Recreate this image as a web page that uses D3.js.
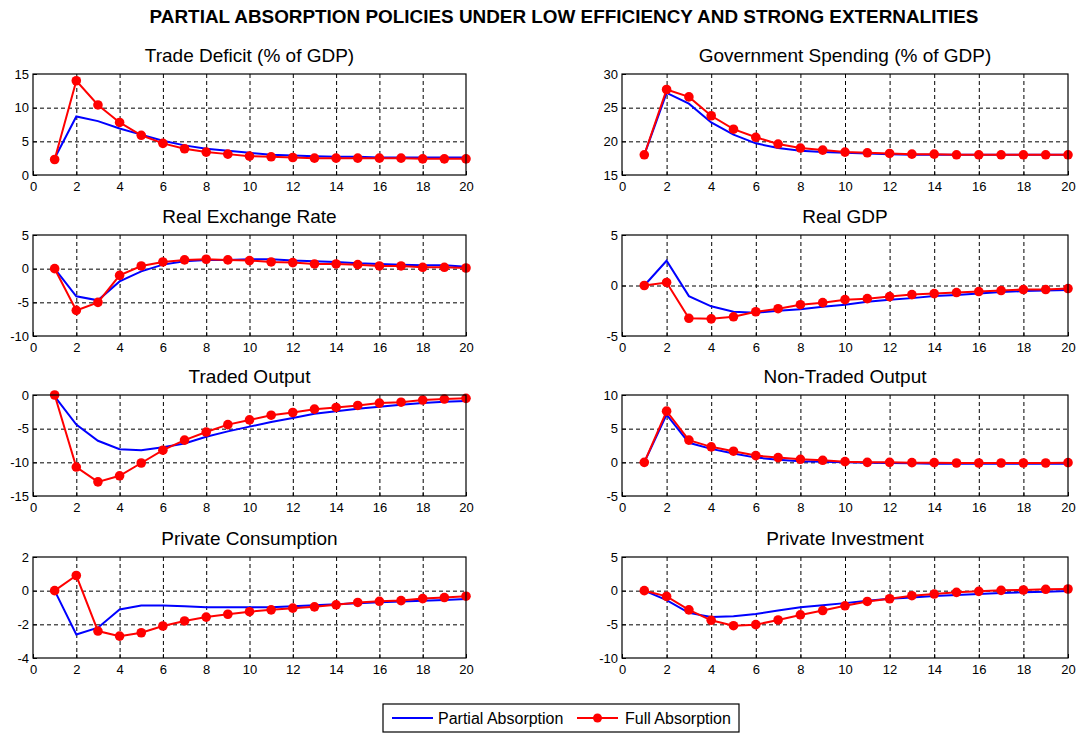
<!doctype html>
<html lang="en">
<head>
<meta charset="utf-8">
<title>Partial absorption policies</title>
<script src="https://cdn.jsdelivr.net/npm/d3@7/dist/d3.min.js"></script>
<style>
  body { margin: 0; background: #fff; }
  text { font-family: "Liberation Sans", Arial, sans-serif; fill: #000; }
</style>
</head>
<body>
<svg id="chart" width="1085" height="733"></svg>
<script>
// periods 1..20
var periods = d3.range(1, 21);

var titles = ["Trade Deficit (% of GDP)", "Government Spending (% of GDP)",
  "Real Exchange Rate", "Real GDP",
  "Traded Output", "Non-Traded Output",
  "Private Consumption", "Private Investment"];

var yDomains = [[0, 15], [15, 30], [-10, 5], [-5, 5], [-15, 0], [-5, 10], [-4, 2], [-10, 5]];
var yTicks = [[0, 5, 10, 15], [15, 20, 25, 30], [-10, -5, 0, 5], [-5, 0, 5],
  [-15, -10, -5, 0], [-5, 0, 5, 10], [-4, -2, 0, 2], [-10, -5, 0, 5]];
var xTicks = [0, 2, 4, 6, 8, 10, 12, 14, 16, 18, 20];

// Partial Absorption (blue)
var partial = [
  [2.5, 8.7, 8.0, 6.9, 6.0, 5.1, 4.4, 3.9, 3.6, 3.3, 3.0, 2.9, 2.8, 2.7, 2.7, 2.6, 2.6, 2.6, 2.6, 2.6],
  [18.0, 27.2, 25.6, 22.8, 21.0, 19.7, 19.0, 18.6, 18.4, 18.3, 18.2, 18.1, 18.0, 18.0, 18.0, 18.0, 18.0, 18.0, 18.0, 18.0],
  [0, -4.1, -4.7, -1.9, -0.4, 0.6, 1.1, 1.3, 1.3, 1.4, 1.4, 1.2, 1.1, 1.0, 0.8, 0.7, 0.6, 0.5, 0.5, 0.3],
  [0, 2.45, -1.05, -2.06, -2.6, -2.7, -2.5, -2.35, -2.1, -1.9, -1.6, -1.4, -1.25, -1.05, -0.95, -0.8, -0.65, -0.55, -0.5, -0.45],
  [-0.2, -4.4, -6.8, -8.05, -8.2, -7.75, -7.2, -6.2, -5.4, -4.7, -4.0, -3.4, -2.8, -2.4, -2.05, -1.75, -1.45, -1.2, -1.0, -0.9],
  [0, 7.1, 2.9, 2.0, 1.3, 0.7, 0.4, 0.15, 0.1, 0.0, -0.05, -0.1, -0.15, -0.2, -0.2, -0.2, -0.2, -0.2, -0.2, -0.2],
  [0, -2.6, -2.2, -1.12, -0.88, -0.88, -0.92, -0.98, -0.98, -0.98, -0.98, -0.92, -0.86, -0.8, -0.75, -0.69, -0.65, -0.6, -0.55, -0.49],
  [0, -1.4, -3.3, -3.9, -3.8, -3.45, -2.95, -2.45, -2.15, -1.85, -1.5, -1.2, -1.0, -0.8, -0.65, -0.5, -0.35, -0.25, -0.15, -0.05]
];

// Full Absorption (red, with markers)
var full = [
  [2.3, 14.0, 10.4, 7.8, 5.9, 4.7, 3.9, 3.4, 3.1, 2.8, 2.7, 2.6, 2.5, 2.5, 2.5, 2.5, 2.5, 2.4, 2.4, 2.4],
  [18.0, 27.7, 26.6, 23.8, 21.8, 20.6, 19.6, 19.0, 18.7, 18.4, 18.3, 18.2, 18.1, 18.1, 18.0, 18.0, 18.0, 18.0, 18.0, 18.0],
  [0, -6.2, -5.0, -1.0, 0.4, 1.0, 1.3, 1.4, 1.3, 1.2, 1.0, 0.9, 0.7, 0.7, 0.6, 0.4, 0.4, 0.2, 0.2, 0.1],
  [0, 0.3, -3.25, -3.3, -3.1, -2.6, -2.3, -1.9, -1.7, -1.4, -1.3, -1.1, -0.9, -0.8, -0.7, -0.6, -0.5, -0.4, -0.4, -0.3],
  [0, -10.7, -12.9, -12.0, -10.1, -8.2, -6.7, -5.5, -4.4, -3.7, -3.0, -2.6, -2.1, -1.85, -1.55, -1.2, -1.07, -0.75, -0.6, -0.5],
  [0, 7.6, 3.3, 2.3, 1.65, 1.0, 0.7, 0.45, 0.3, 0.1, 0, 0, -0.05, -0.05, -0.1, -0.1, -0.1, -0.1, -0.1, -0.05],
  [0, 0.9, -2.4, -2.7, -2.5, -2.1, -1.8, -1.57, -1.4, -1.25, -1.14, -1.04, -0.96, -0.84, -0.7, -0.63, -0.59, -0.47, -0.41, -0.33],
  [0, -0.85, -2.85, -4.4, -5.2, -5.05, -4.35, -3.6, -2.95, -2.25, -1.6, -1.2, -0.75, -0.5, -0.25, -0.1, 0.05, 0.1, 0.2, 0.25]
];

var seriesNames = ["Partial Absorption", "Full Absorption"];
var blue = "#0000ff", red = "#ff0000";

var svg = d3.select("#chart");

svg.append("text")
  .attr("x", 564).attr("y", 23)
  .attr("text-anchor", "middle")
  .style("font-weight", "bold").style("font-size", "18.9px")
  .text("PARTIAL ABSORPTION POLICIES UNDER LOW EFFICIENCY AND STRONG EXTERNALITIES");

var cols = [[33, 466], [622, 1068]];
var rowTops = [74, 235, 395, 557];
var h = 101;
// plain hyphen minus, like the original
var fmt = function(d) { return String(d); };

titles.forEach(function(title, i) {
  var c = cols[i % 2], top = rowTops[Math.floor(i / 2)];
  var w = c[1] - c[0];
  var x = d3.scaleLinear().domain([0, 20]).range([0, w]);
  var y = d3.scaleLinear().domain(yDomains[i]).range([h, 0]);

  var g = svg.append("g").attr("transform", "translate(" + c[0] + "," + top + ")");

  g.append("text")
    .attr("x", w / 2).attr("y", -12)
    .attr("text-anchor", "middle")
    .style("font-size", "19px")
    .text(title);

  // dashed grid
  g.append("g").attr("class", "grid")
    .call(d3.axisBottom(x).tickValues(xTicks.slice(1, -1)).tickSize(h).tickFormat(""))
    .call(function(s) { s.select(".domain").remove(); });
  g.append("g").attr("class", "grid")
    .call(d3.axisLeft(y).tickValues(yTicks[i].slice(1, -1)).tickSize(-w).tickFormat(""))
    .call(function(s) { s.select(".domain").remove(); });
  g.selectAll(".grid line").attr("stroke", "#000").attr("stroke-width", 1)
    .attr("stroke-dasharray", "4,3");

  // tick labels
  var xa = g.append("g").attr("transform", "translate(0," + h + ")")
    .call(d3.axisBottom(x).tickValues(xTicks).tickFormat(fmt).tickSize(-4).tickPadding(7));
  var ya = g.append("g")
    .call(d3.axisLeft(y).tickValues(yTicks[i]).tickFormat(fmt).tickSize(-4).tickPadding(4));
  [xa, ya].forEach(function(a) {
    a.select(".domain").remove();
    a.selectAll("line").attr("stroke", "#000");
    a.selectAll("text").style("font-size", "13px").style("font-family", "'Liberation Sans', Arial, sans-serif").attr("fill", "#000");
  });

  var line = d3.line().x(function(d, k) { return x(periods[k]); }).y(function(d) { return y(d); });

  g.append("path").datum(partial[i])
    .attr("d", line).attr("fill", "none")
    .attr("stroke", blue).attr("stroke-width", 2);

  g.append("path").datum(full[i])
    .attr("d", line).attr("fill", "none")
    .attr("stroke", red).attr("stroke-width", 2);

  g.selectAll("circle").data(full[i]).enter().append("circle")
    .attr("cx", function(d, k) { return x(periods[k]); })
    .attr("cy", function(d) { return y(d); })
    .attr("r", 4.8).attr("fill", red);

  g.append("rect")
    .attr("width", w).attr("height", h)
    .attr("fill", "none").attr("stroke", "#000").attr("stroke-width", 1.2);
});

// legend
var lg = svg.append("g").attr("transform", "translate(383,704)");
lg.append("rect").attr("width", 356).attr("height", 28)
  .attr("fill", "#fff").attr("stroke", "#000").attr("stroke-width", 1.2);
lg.append("line").attr("x1", 9).attr("x2", 50).attr("y1", 14).attr("y2", 14)
  .attr("stroke", blue).attr("stroke-width", 2);
lg.append("text").attr("x", 55).attr("y", 20).style("font-size", "16px").text(seriesNames[0]);
lg.append("line").attr("x1", 194).attr("x2", 235).attr("y1", 14).attr("y2", 14)
  .attr("stroke", red).attr("stroke-width", 2);
lg.append("circle").attr("cx", 214.5).attr("cy", 14).attr("r", 4.5).attr("fill", red);
lg.append("text").attr("x", 242).attr("y", 20).style("font-size", "16px").text(seriesNames[1]);
</script>
</body>
</html>
